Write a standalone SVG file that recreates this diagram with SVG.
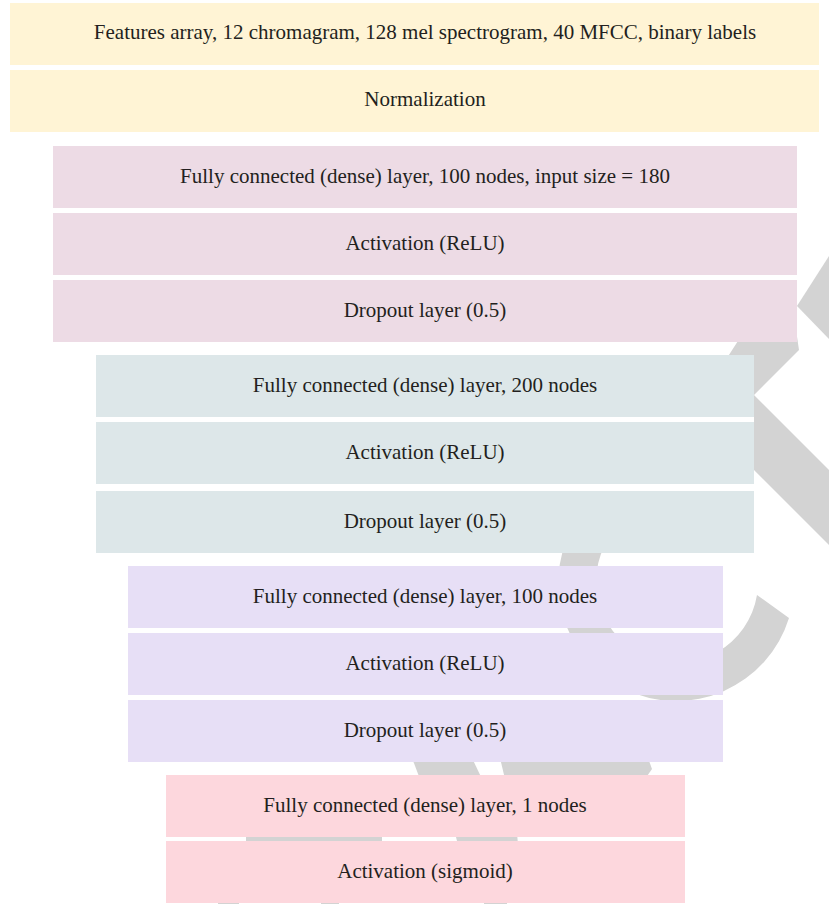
<svg xmlns="http://www.w3.org/2000/svg" width="829" height="904" viewBox="0 0 829 904">
<style>
.t{font-family:"Liberation Serif","Times New Roman",serif;font-size:21px;fill:#231f20;text-anchor:middle}
.y{fill:#FFF4D5}.p{fill:#EDDBE5}.c{fill:#DDE7E9}.v{fill:#E7DFF6}.r{fill:#FDD7DD}
.w{fill:#D3D3D3}
</style>
<rect width="829" height="904" fill="#FFFFFF"/>
<g id="watermark">
<polygon class="w" points="797,306 829,256 829,339"/>
<polygon class="w" points="745,330 796,330 799,350 754,395 829,470 829,545 754,470 754,400 700,400"/>
<path class="w" d="M 789,618 A 118 118 0 1 1 578.3,517.3 L 608.6,538.5 A 81 81 0 1 0 757,595 Z"/>
<polygon class="w" points="412,758 472,758 482,779 420,779"/>
<polygon class="w" points="500,758 648,758 652,769 645,779 505,779"/>
<polygon class="w" points="246,833 382,833 382,845 246,845"/>
<polygon class="w" points="455,833 517,833 518,845 458,845"/>
<polygon class="w" points="218,900 239,900 239,904 218,904"/>
<polygon class="w" points="321,900 339,900 339,904 321,904"/>
<polygon class="w" points="484,900 507,900 507,904 484,904"/>
</g>
<g id="input">
<rect class="y" x="10" y="3" width="809" height="62"/>
<text class="t" x="425" y="39">Features array, 12 chromagram, 128 mel spectrogram, 40 MFCC, binary labels</text>
</g>
<g id="norm">
<rect class="y" x="10" y="70" width="809" height="62"/>
<text class="t" x="425" y="106">Normalization</text>
</g>
<g id="dense1">
<rect class="p" x="53" y="146" width="744" height="62"/>
<text class="t" x="425" y="183">Fully connected (dense) layer, 100 nodes, input size = 180</text>
</g>
<g id="relu1">
<rect class="p" x="53" y="213" width="744" height="62"/>
<text class="t" x="425" y="250">Activation (ReLU)</text>
</g>
<g id="drop1">
<rect class="p" x="53" y="280" width="744" height="62"/>
<text class="t" x="425" y="317">Dropout layer (0.5)</text>
</g>
<g id="dense2">
<rect class="c" x="96" y="355" width="658" height="62"/>
<text class="t" x="425" y="392">Fully connected (dense) layer, 200 nodes</text>
</g>
<g id="relu2">
<rect class="c" x="96" y="422" width="658" height="62"/>
<text class="t" x="425" y="459">Activation (ReLU)</text>
</g>
<g id="drop2">
<rect class="c" x="96" y="491" width="658" height="62"/>
<text class="t" x="425" y="528">Dropout layer (0.5)</text>
</g>
<g id="dense3">
<rect class="v" x="128" y="566" width="595" height="62"/>
<text class="t" x="425" y="603">Fully connected (dense) layer, 100 nodes</text>
</g>
<g id="relu3">
<rect class="v" x="128" y="633" width="595" height="62"/>
<text class="t" x="425" y="670">Activation (ReLU)</text>
</g>
<g id="drop3">
<rect class="v" x="128" y="700" width="595" height="62"/>
<text class="t" x="425" y="737">Dropout layer (0.5)</text>
</g>
<g id="dense4">
<rect class="r" x="166" y="775" width="519" height="62"/>
<text class="t" x="425" y="812">Fully connected (dense) layer, 1 nodes</text>
</g>
<g id="sigmoid">
<rect class="r" x="166" y="841" width="519" height="62"/>
<text class="t" x="425" y="878">Activation (sigmoid)</text>
</g>
<g id="connectors"/>
</svg>
